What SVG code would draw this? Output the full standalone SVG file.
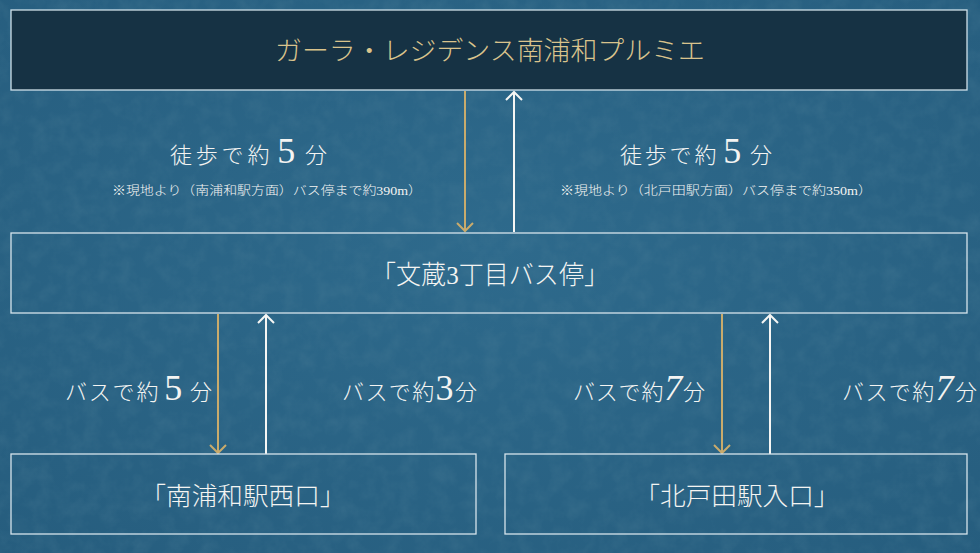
<svg xmlns="http://www.w3.org/2000/svg" width="980" height="553" viewBox="0 0 980 553">
<style>
.box{fill:none;stroke:#d6e4ec;stroke-width:1.3}
.jp{font-family:"Liberation Serif","Noto Sans CJK JP",serif;font-weight:300;fill:#f4f4f2}
.num{font-family:"Liberation Serif",serif;font-weight:400}
.gold{stroke:#c9ab6c;stroke-width:2;fill:none}
.white{stroke:#f6f6f4;stroke-width:2;fill:none}
</style>
<defs>
<marker id="hg" viewBox="-10 -10 20 20" markerWidth="20" markerHeight="20" markerUnits="userSpaceOnUse" orient="auto">
<path d="M-8,-8 L0,0 L-8,8" fill="none" stroke="#c9ab6c" stroke-width="2"/>
</marker>
<marker id="hw" viewBox="-10 -10 20 20" markerWidth="20" markerHeight="20" markerUnits="userSpaceOnUse" orient="auto">
<path d="M-8,-8 L0,0 L-8,8" fill="none" stroke="#f6f6f4" stroke-width="2"/>
</marker>
<filter id="tex" x="0" y="0" width="100%" height="100%">
<feTurbulence type="fractalNoise" baseFrequency="0.06" numOctaves="4" seed="7"/>
<feColorMatrix type="matrix" values="0 0 0 0 0.08  0 0 0 0 0.22  0 0 0 0 0.32  0 0 0 -1.6 1.0"/>
</filter>
<radialGradient id="bg" cx="0.5" cy="0.45" r="0.75">
<stop offset="0" stop-color="#2e6a8c"/>
<stop offset="1" stop-color="#265d7e"/>
</radialGradient>
</defs>
<rect width="980" height="553" fill="url(#bg)"/>
<rect width="980" height="553" filter="url(#tex)" opacity="0.3"/>

<g id="connectors">
<line class="gold" x1="465" y1="91" x2="465" y2="231" marker-end="url(#hg)"/>
<line class="white" x1="514" y1="232" x2="514" y2="92" marker-end="url(#hw)"/>
<line class="gold" x1="218" y1="314" x2="218" y2="453" marker-end="url(#hg)"/>
<line class="white" x1="266" y1="454" x2="266" y2="315" marker-end="url(#hw)"/>
<line class="gold" x1="722" y1="314" x2="722" y2="453" marker-end="url(#hg)"/>
<line class="white" x1="770" y1="454" x2="770" y2="315" marker-end="url(#hw)"/>
</g>

<g id="labels">
<text class="jp" x="170" y="163" font-size="22" textLength="157" lengthAdjust="spacing">徒歩で約<tspan class="num" font-size="36" dx="4">5</tspan><tspan dx="6">分</tspan></text>
<text class="jp" x="112" y="195" font-size="12.5" textLength="310" lengthAdjust="spacingAndGlyphs">※現地より（南浦和駅方面）バス停まで約390m）</text>
<text class="jp" x="620" y="163" font-size="22" textLength="152" lengthAdjust="spacing">徒歩で約<tspan class="num" font-size="36" dx="4">5</tspan><tspan dx="6">分</tspan></text>
<text class="jp" x="560" y="195" font-size="12.5" textLength="312" lengthAdjust="spacingAndGlyphs">※現地より（北戸田駅方面）バス停まで約350m）</text>
<text class="jp" x="65" y="400" font-size="22" textLength="147" lengthAdjust="spacing">バスで約<tspan class="num" font-size="36" dx="4">5</tspan><tspan dx="6">分</tspan></text>
<text class="jp" x="342" y="400" font-size="22" textLength="135" lengthAdjust="spacing">バスで約<tspan class="num" font-size="36">3</tspan>分</text>
<text class="jp" x="573" y="400" font-size="22" textLength="132" lengthAdjust="spacing">バスで約<tspan class="num" font-size="36" font-style="italic">7</tspan>分</text>
<text class="jp" x="842" y="400" font-size="22" textLength="135" lengthAdjust="spacing">バスで約<tspan class="num" font-size="36" font-style="italic">7</tspan>分</text>
</g>

<g id="node-residence">
<rect x="11" y="10" width="956" height="80" fill="#163244" stroke="#cfe0ea" stroke-width="1.3"/>
<text class="jp" x="490" y="60" font-size="26" text-anchor="middle" style="fill:#d9c38c" textLength="430" lengthAdjust="spacingAndGlyphs">ガーラ・レジデンス南浦和プルミエ</text>
</g>

<g id="node-busstop">
<rect class="box" x="11" y="233" width="956" height="80"/>
<text class="jp" x="490" y="284" font-size="26" text-anchor="middle" textLength="238" lengthAdjust="spacingAndGlyphs">「文蔵3丁目バス停」</text>
</g>

<g id="node-minamiurawa">
<rect class="box" x="11" y="454" width="465" height="80"/>
<text class="jp" x="243" y="505" font-size="25" text-anchor="middle" textLength="205" lengthAdjust="spacingAndGlyphs">「南浦和駅西口」</text>
</g>

<g id="node-kitatoda">
<rect class="box" x="505" y="454" width="462" height="80"/>
<text class="jp" x="737" y="505" font-size="25" text-anchor="middle" textLength="205" lengthAdjust="spacingAndGlyphs">「北戸田駅入口」</text>
</g>
</svg>
